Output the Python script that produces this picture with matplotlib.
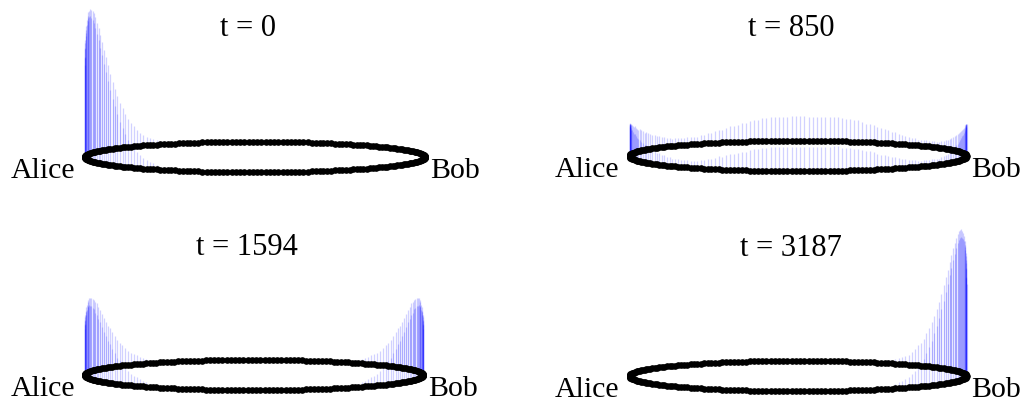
import numpy as np
import matplotlib.pyplot as plt

plt.rcParams['font.family'] = ['Liberation Serif', 'DejaVu Serif']

N_NODES = 250          # nodes on the ring, Alice = node 0, Bob = node N/2
RING_B = 0.09          # apparent half-height of the ring (ring half-width = 1)
HEIGHT_SCALE = 0.85    # stem length for probability weight 1.0

times = [0, 850, 1594, 3187]

# weights by distance (in nodes) along the ring, counted from Alice or from Bob
p0_alice = [0.64, 0.69, 0.75, 0.80, 0.85, 0.89, 0.93, 0.96, 0.98, 0.99,
            1.00, 0.99, 0.98, 0.96, 0.93, 0.89, 0.85, 0.80, 0.75, 0.69,
            0.64, 0.58, 0.52, 0.46, 0.41, 0.36, 0.31, 0.27, 0.23, 0.19,
            0.16, 0.14, 0.11, 0.09, 0.07, 0.06, 0.05, 0.04, 0.03, 0.02,
            0.02, 0.01, 0.01, 0.01]

p850_alice = [0.22, 0.22, 0.22, 0.22, 0.21, 0.21, 0.20, 0.20, 0.19, 0.18, 0.18,
              0.17, 0.16, 0.15, 0.15, 0.14, 0.13, 0.12, 0.12, 0.11, 0.10,
              0.09, 0.09, 0.08, 0.08, 0.07, 0.07, 0.06, 0.06, 0.05, 0.05,
              0.05, 0.05, 0.05, 0.05, 0.05, 0.05, 0.05, 0.06, 0.06, 0.07,
              0.07, 0.08, 0.09, 0.09, 0.10, 0.11, 0.11, 0.12, 0.13, 0.13,
              0.14, 0.15, 0.15, 0.16, 0.16, 0.17, 0.17, 0.17, 0.17, 0.17, 0.17, 0.17]
p850_bob = [0.22, 0.22, 0.22, 0.21, 0.21, 0.20, 0.19, 0.18, 0.17, 0.16, 0.15,
            0.14, 0.13, 0.12, 0.11, 0.10, 0.09, 0.08, 0.07, 0.06, 0.06,
            0.05, 0.05, 0.04, 0.04, 0.04, 0.04, 0.04, 0.04, 0.04, 0.04,
            0.04, 0.05, 0.05, 0.05, 0.06, 0.06, 0.07, 0.08, 0.08, 0.09,
            0.10, 0.10, 0.11, 0.12, 0.13, 0.13, 0.14, 0.15, 0.15, 0.16,
            0.16, 0.16, 0.17, 0.17, 0.17, 0.17, 0.17, 0.17, 0.17, 0.17, 0.17, 0.17]

p1594_alice = [0.32, 0.35, 0.38, 0.41, 0.43, 0.46, 0.47, 0.49, 0.50, 0.51,
               0.51, 0.51, 0.50, 0.49, 0.47, 0.46, 0.43, 0.41, 0.38, 0.35,
               0.32, 0.29, 0.27, 0.24, 0.21, 0.18, 0.16, 0.14, 0.12, 0.10,
               0.08, 0.07, 0.06, 0.05, 0.04, 0.03, 0.02, 0.02, 0.01, 0.01]
p1594_bob = [0.32, 0.35, 0.38, 0.41, 0.43, 0.46, 0.47, 0.49, 0.50, 0.51,
             0.51, 0.51, 0.50, 0.49, 0.47, 0.46, 0.43, 0.41, 0.38, 0.35,
             0.32, 0.29, 0.27, 0.24, 0.21, 0.18, 0.16, 0.14, 0.12, 0.10,
             0.08, 0.07, 0.06, 0.05, 0.04, 0.03, 0.02, 0.02, 0.01, 0.01]

p3187_bob = [0.64, 0.69, 0.75, 0.80, 0.85, 0.89, 0.93, 0.96, 0.98, 0.99,
             1.00, 0.99, 0.98, 0.96, 0.93, 0.89, 0.85, 0.80, 0.75, 0.69,
             0.64, 0.58, 0.52, 0.46, 0.41, 0.36, 0.31, 0.27, 0.23, 0.19,
             0.16, 0.14, 0.11, 0.09, 0.07, 0.06, 0.05, 0.04, 0.03, 0.02,
             0.02, 0.01, 0.01, 0.01]


def by_distance(from_alice=(), from_bob=()):
    half = N_NODES // 2
    p = np.zeros(half + 1)
    p[:len(from_alice)] += np.asarray(from_alice)
    if len(from_bob):
        p[half + 1 - len(from_bob):] += np.asarray(from_bob)[::-1]
    return p


profiles = [
    by_distance(from_alice=p0_alice),
    by_distance(from_alice=p850_alice, from_bob=p850_bob),
    by_distance(from_alice=p1594_alice, from_bob=p1594_bob),
    by_distance(from_bob=p3187_bob),
]

# ring centre and half-width in pixels for each panel
centres = [(255, 157, 170), (798, 156, 168.5), (254, 375, 169), (798, 376, 168.5)]

W, H = 1028, 403
fig = plt.figure(figsize=(W / 100, H / 100), dpi=100)

k = np.arange(N_NODES)
phi = 2 * np.pi * k / N_NODES
xs = -np.cos(phi)
ys = -RING_B * np.sin(phi)
dist = np.minimum(k, N_NODES - k)

XL, XR, YB, YT = -1.08, 1.08, -0.14, 0.92

for t, prof, (cx, cy, a) in zip(times, profiles, centres):
    left, right = cx + XL * a, cx + XR * a
    top, bottom = cy - YT * a, cy - YB * a
    ax = fig.add_axes([left / W, 1 - bottom / H, (right - left) / W, (bottom - top) / H])
    ax.set_xlim(XL, XR)
    ax.set_ylim(YB, YT)
    ax.axis('off')

    h = prof[dist]
    m = h > 0
    ax.vlines(xs[m], ys[m], ys[m] + HEIGHT_SCALE * h[m], colors='blue',
              alpha=0.18, linewidth=0.9, zorder=1)
    ax.plot(xs, ys, 'o', color='black', ms=4.8, mew=0, zorder=2, clip_on=False)

    ax.text(-0.04, 0.71, f't = {t}', ha='center', va='baseline', fontsize=22)
    ax.text(-1.06, -0.125, 'Alice', ha='right', va='baseline', fontsize=21.5)
    ax.text(1.03, -0.125, 'Bob', ha='left', va='baseline', fontsize=21.5)

fig.savefig('out.png', dpi=100)
